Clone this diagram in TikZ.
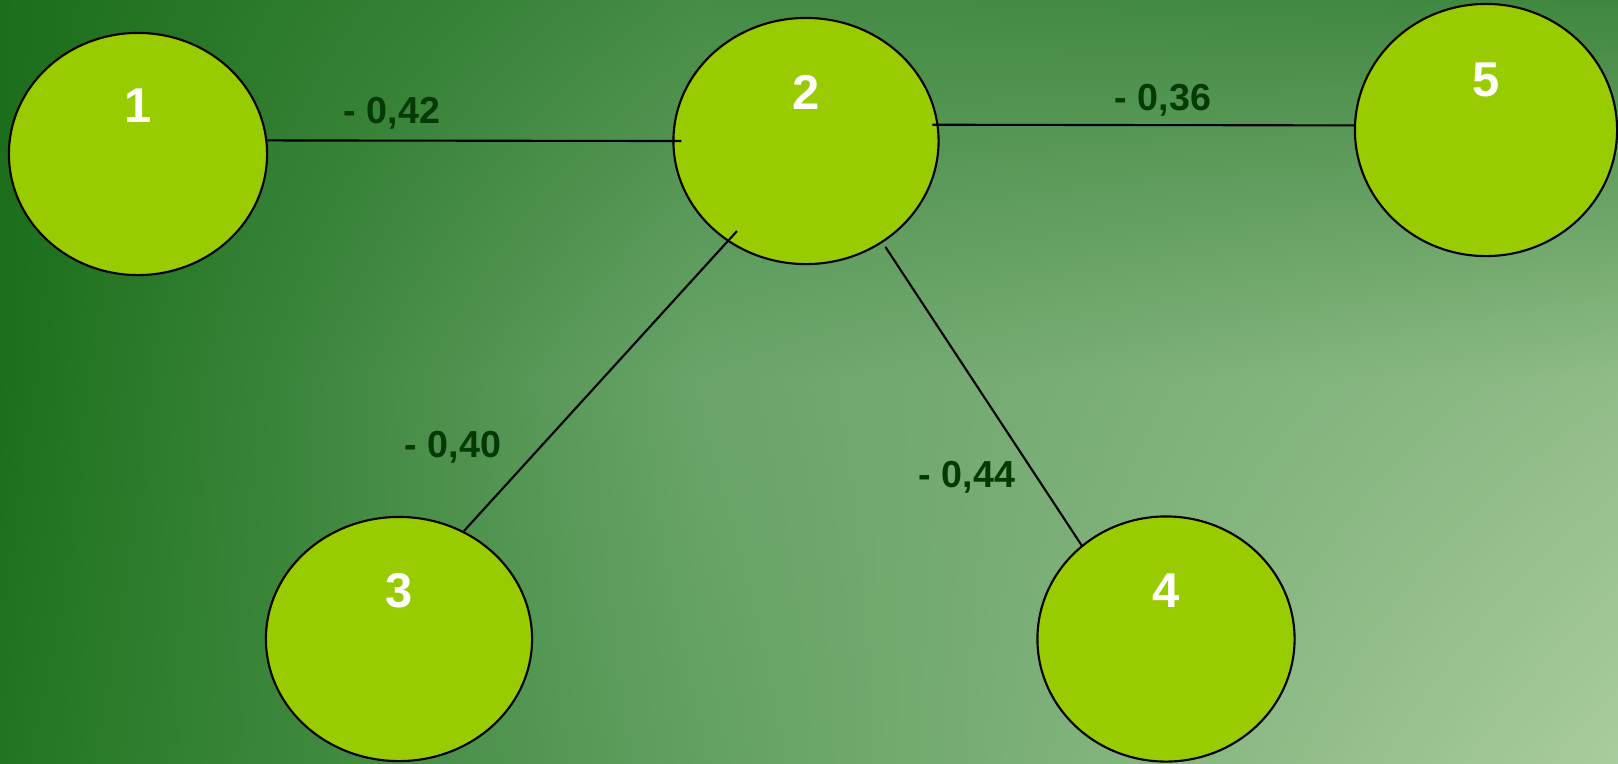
\documentclass[tikz,border=0pt]{standalone}
\usepackage{fontspec}
\setmainfont{Liberation Sans}
\usetikzlibrary{shapes.geometric,shadings}

\definecolor{ballgreen}{HTML}{99CC00}
\definecolor{weightgreen}{HTML}{053A05}
\definecolor{bgTL}{HTML}{1B6E1B}
\definecolor{bgML}{HTML}{1B6F1B}
\definecolor{bgBL}{HTML}{217521}
\definecolor{bgTC}{HTML}{468C46}
\definecolor{bgMC}{HTML}{6AA46A}
\definecolor{bgBC}{HTML}{62A062}
\definecolor{bgTR}{HTML}{3F873F}
\definecolor{bgMR}{HTML}{90BC88}
\definecolor{bgBR}{HTML}{AACC9E}

\tikzset{
  ball/.style={ellipse, draw=black, line width=0.6pt, fill=ballgreen, inner sep=0pt},
  num/.style={text=white, font=\bfseries\fontsize{13.9}{14}\selectfont, yshift=0.485cm},
  weight/.style={text=weightgreen, font=\bfseries\fontsize{10.7}{11}\selectfont, anchor=base},
  link/.style={line width=0.6pt}
}

\begin{document}
\begin{tikzpicture}[x=0.01cm,y=-0.01cm]
\useasboundingbox (0,0) rectangle (1618,763);
% background
\shade[upper left=bgTL, upper right=bgTC, lower left=bgML, lower right=bgMC] (0,0) rectangle (700,380);
\shade[upper left=bgTC, upper right=bgTR, lower left=bgMC, lower right=bgMR] (700,0) rectangle (1618,380);
\shade[upper left=bgML, upper right=bgMC, lower left=bgBL, lower right=bgBC] (0,380) rectangle (700,763);
\shade[upper left=bgMC, upper right=bgMR, lower left=bgBC, lower right=bgBR] (700,380) rectangle (1618,763);

% vertices
\node[ball, minimum width=2.58cm, minimum height=2.42cm, label={[num]center:1}] (n1) at (138,154) {};
\node[ball, minimum width=2.65cm, minimum height=2.46cm, label={[num]center:2}] (n2) at (806,141) {};
\node[ball, minimum width=2.66cm, minimum height=2.44cm, label={[num]center:3}] (n3) at (399,639) {};
\node[ball, minimum width=2.57cm, minimum height=2.45cm, label={[num]center:4}] (n4) at (1166,639) {};
\node[ball, minimum width=2.62cm, minimum height=2.52cm, label={[num,yshift=0.02cm]center:5}] (n5) at (1486,130) {};

% edges
\draw[link, shorten >=-0.09cm] (n1.6) -- (n2.west);
\draw[link, shorten <=-0.06cm] (n2.7) -- (n5.178);
\draw[link, shorten <=-0.14cm] (n2.232) -- (n3.59);
\draw[link, shorten <=0.05cm] (n2.307) -- (n4.132);

% weights
\node[weight] (w12) at (392,123) {- 0,42};
\node[weight] (w25) at (1163,110) {- 0,36};
\node[weight] (w23) at (453,457) {- 0,40};
\node[weight] (w24) at (967,487) {- 0,44};
\end{tikzpicture}
\end{document}
